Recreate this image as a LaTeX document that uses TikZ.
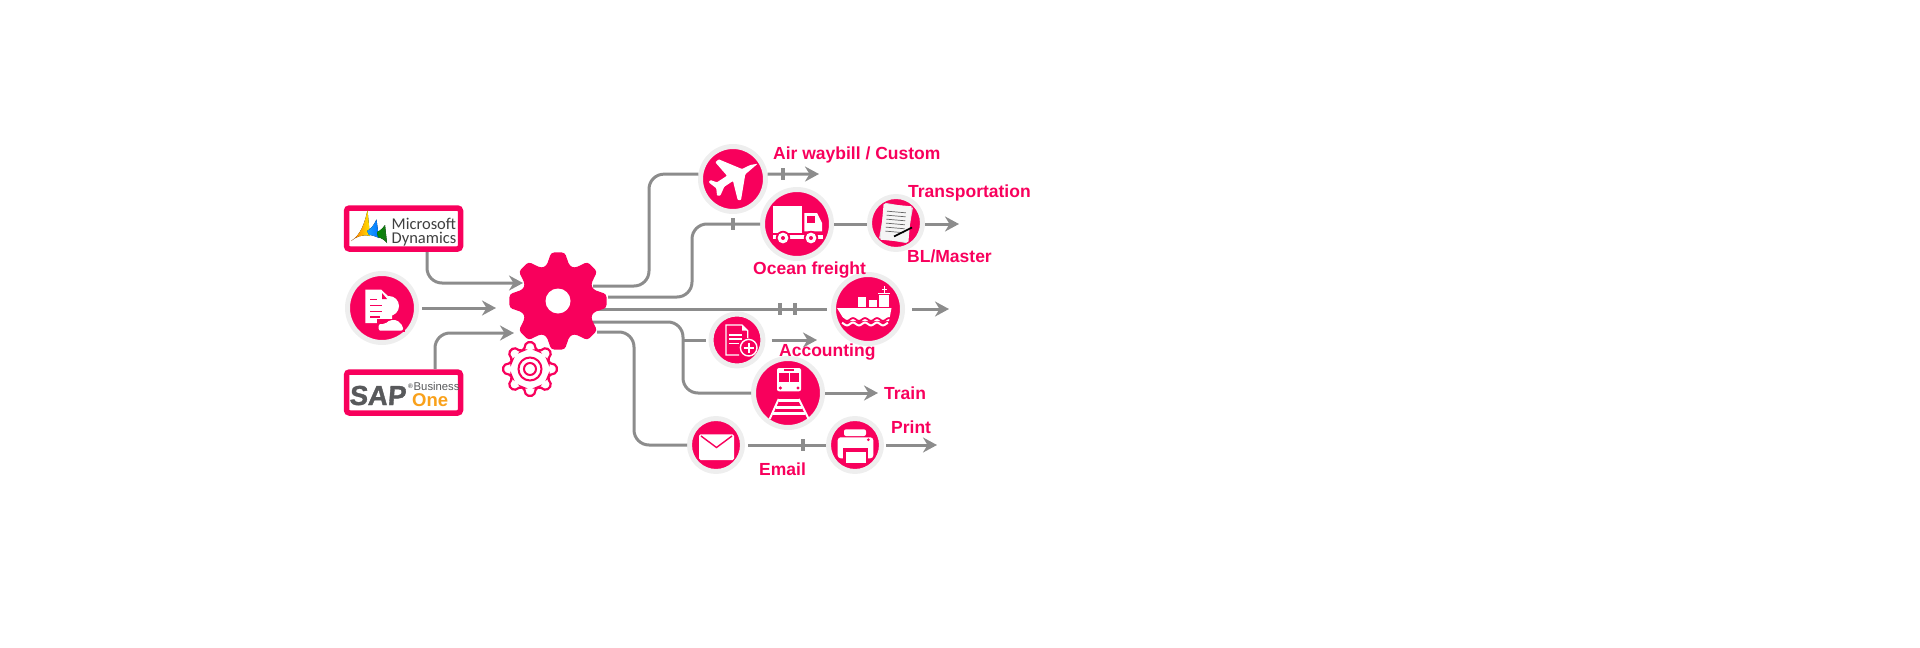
\documentclass[tikz,border=0pt]{standalone}
\usepackage{fontspec}
\setmainfont{Liberation Sans}
\newfontfamily\logofont{Carlito}
\newfontfamily\sapfont[FakeSlant=0.08,FakeBold=1.2]{Liberation Sans Bold}
\usetikzlibrary{arrows.meta}
\definecolor{brand}{HTML}{F8005C}
\definecolor{halo}{HTML}{EEEEEE}
\definecolor{pipe}{HTML}{8C8C8C}
\definecolor{sapgray}{HTML}{58595B}
\definecolor{saporange}{HTML}{F9A11B}
\newcommand{\cogpath}[2]{(-18:#2) \foreach \ang in {0,45,...,270}{ -- (\ang-8:#1) -- (\ang+8:#1) -- (\ang+18:#2) -- (\ang+27:#2)} -- (307:#1) -- (323:#1) -- (333:#2) -- cycle}
\tikzset{
	hub/.style={circle, fill=brand, draw=halo, line width=5pt, minimum size=#1, inner sep=0pt},
	logobox/.style={rectangle, fill=white, draw=brand, line width=5.5pt, rounded corners=3pt, minimum width=114pt, minimum height=41pt, inner sep=0pt},
	pipeline/.style={draw=pipe, line width=3pt, rounded corners=15pt},
	flow/.style={pipeline, -{Stealth[length=14pt,width=15pt,inset=4.5pt]}},
	tick/.style={rectangle, fill=pipe, minimum width=3.8pt, minimum height=12.5pt, inner sep=0pt},
	caption/.style={anchor=base west, inner sep=0pt, text=brand, font=\bfseries\fontsize{17.5}{20}\selectfont},
	icon/.style={fill=white, draw=none}
}
\begin{document}
\begin{tikzpicture}[x=1pt, y=-1pt]
	\useasboundingbox (0,0) rectangle (1920,648);

	\node[logobox] (dynamics) at (403.5,228.5) {};
	\node[logobox] (sapone) at (403.5,392.5) {};
	\node[hub=69pt] (person) at (382,308) {};
	\node[hub=65pt] (plane) at (733,179) {};
	\node[hub=69pt] (truck) at (797,224) {};
	\node[hub=53pt] (paper) at (896,223) {};
	\node[hub=69pt] (ship) at (868,309) {};
	\node[hub=52pt] (docplus) at (737,340) {};
	\node[hub=69pt] (train) at (788,393) {};
	\node[hub=53pt] (mail) at (716,445) {};
	\node[hub=53pt] (printer) at (855,445) {};
	\node[circle, minimum size=98pt, inner sep=0pt] (gear) at (558,301) {};
	\node[circle, minimum size=56pt, inner sep=0pt] (smallgear) at (530,369) {};

	\coordinate (dynamicsOut) at (427,252);
	\coordinate (saponeOut) at (435,369);
	\coordinate (gearInA) at (523,283);
	\coordinate (gearInB) at (496,308);
	\coordinate (gearInC) at (514,333);
	\coordinate (gearOutA) at (593,286);
	\coordinate (gearOutB) at (608,297);
	\coordinate (gearOutC) at (598,309);
	\coordinate (gearOutD) at (592,322);
	\coordinate (gearOutE) at (597,332);
	\coordinate (split) at (683,340);
	\coordinate (planeEnd) at (819,174);
	\coordinate (paperEnd) at (959,224);
	\coordinate (shipEnd) at (949,309);
	\coordinate (docplusEnd) at (817,340);
	\coordinate (trainEnd) at (878,393);
	\coordinate (printerEnd) at (937,445);

	\draw[flow] (dynamicsOut) |- (gearInA);
	\draw[flow, shorten <=3pt] (person.east) -- (gearInB);
	\draw[flow] (saponeOut) |- (gearInC);
	\draw[pipeline] (gearOutA) -- (649,286) |- (plane.172);
	\draw[flow] (plane.8) -- (planeEnd);
	\draw[pipeline] (gearOutB) -- (692,297) |- (truck.west);
	\draw[pipeline] (truck.east) -- (paper.west |- truck.east);
	\draw[flow] (paper.east |- paperEnd) -- (paperEnd);
	\draw[pipeline, shorten >=4pt] (gearOutC) -- (ship.west);
	\draw[flow, shorten <=7pt] (ship.east) -- (shipEnd);
	\draw[pipeline] (gearOutD) -- (683,322) |- (train.west);
	\draw[pipeline, rounded corners=0pt, shorten >=3pt] (split) -- (docplus.west);
	\draw[flow, shorten <=6pt] (docplus.east) -- (docplusEnd);
	\draw[flow] (train.east) -- (trainEnd);
	\draw[pipeline] (gearOutE) -- (634,332) |- (mail.west);
	\draw[pipeline, shorten <=3pt] (mail.east) -- (printer.west);
	\draw[flow, shorten <=2pt] (printer.east) -- (printerEnd);

	\node[tick] (planeTick) at (783,174) {};
	\node[tick] (truckTick) at (733,224) {};
	\node[tick] (shipTickA) at (780,309) {};
	\node[tick] (shipTickB) at (795,309) {};
	\node[tick] (mailTick) at (803,445) {};

	\filldraw[shift={(smallgear)}, fill=white, draw=brand, line width=2.2pt, rounded corners=2pt] \cogpath{27}{20};
	\draw[shift={(smallgear)}, brand, line width=2pt] (0,0) circle (11.5) (0,0) circle (6);
	\fill[shift={(gear)}, brand, rounded corners=3pt] \cogpath{49}{37};
	\fill[shift={(gear)}, white] (0,0) circle (12.5);

	\begin{scope}[shift={(plane)}]
		\fill[icon, rounded corners=0.8pt] (24.7,-15.3) -- (12.3,-4.7) -- (8,21) -- (4.7,21) -- (0,2) -- (-8.7,7.7) -- (-12.7,16.7) -- (-16,16.7) -- (-16.7,9.3) -- (-24.3,3.3) -- (-22.7,1) -- (-16,3.3) -- (-6,-3.3) -- (-17.7,-16.7) -- (-14.3,-19.7) -- (9,-10) -- (17.3,-14) -- cycle;
	\end{scope}
	\begin{scope}[shift={(truck)}]
		\fill[icon] (-24.3,-17.7) rectangle (5,9);
		\fill[icon] (7.3,-11) -- (20,-11) -- (25,-1) -- (25,7.3) -- (7.3,7.3) -- cycle;
		\fill[brand] (10,-7.7) rectangle (18.3,-1);
		\fill[icon] (-24,10.7) rectangle (26,15);
		\foreach \wheelx in {-14,14} {
			\fill[brand] (\wheelx,14) circle (7.2);
			\fill[icon] (\wheelx,14) circle (5.4);
			\fill[brand] (\wheelx,14) circle (2);
		}
	\end{scope}
	\begin{scope}[shift={(person)}]
		\fill[icon] (-16.7,-18.3) -- (-0.7,-18.3) -- (10,-8) -- (10,15) -- (-16.7,15) -- cycle;
		\fill[icon] (7,-2) circle (10);
		\fill[brand] (0,-15) -- (5,-9) -- (0,-9) -- cycle;
		\draw[brand, line width=1.3pt] (-11.7,-8.3) -- (-5,-8.3) (-11.7,-2.7) -- (0,-2.7) (-11.7,3.3) -- (0,3.3) (-11.7,9) -- (-2,9);
		\fill[brand] (-5,10.5) rectangle (23,24);
		\fill[icon, rounded corners=2pt] (-3.3,22.7) -- (-3.3,16) -- (3,16) -- (8,12) -- (15,12) -- (21,18) -- (21,22.7) -- cycle;
	\end{scope}
	\begin{scope}[shift={(docplus)}]
		\draw[white, line width=1.4pt] (10.7,-2) -- (10.7,-9.3) -- (5,-15) -- (-11,-15) -- (-11,15) -- (2,15);
		\fill[icon] (5,-15) -- (10.7,-9.3) -- (5,-9.3) -- cycle;
		\draw[white, line width=1.4pt] (-8.3,-5) -- (5,-5) (-8.3,-1) -- (5,-1) (-8.3,3.3) -- (2,3.3);
		\filldraw[fill=brand, draw=white, line width=1.4pt] (11.7,7.7) circle (8.3);
		\draw[white, line width=2pt] (6.7,7.7) -- (16.7,7.7) (11.7,2.7) -- (11.7,12.7);
	\end{scope}
	\begin{scope}[shift={(paper)}]
		\fill[white!88!black, rotate=-10] (-14,-18) rectangle (14,18);
		\fill[white!96!black, rotate=-5] (-14,-18) rectangle (14,18);
		\foreach \rowy in {-11,-7,-3,1,5,9} {
			\draw[black!60, line width=0.7pt, rotate=-5] (-10,\rowy) -- (9,\rowy);
		}
		\draw[black, line width=1.6pt] (-2,13.5) -- (16,4.5);
	\end{scope}
	\begin{scope}[shift={(ship)}]
		\fill[icon] (-31,-1) -- (23.5,-1) -- (21,12) -- (-23,12) -- cycle;
		\draw[brand, line width=1.8pt] plot[domain=-27:22, samples=50] (\x, {10.5+1.4*sin(\x*30)});
		\draw[white, line width=2pt] plot[domain=-26:20, samples=50] (\x, {15+1.4*sin(\x*30)});
		\fill[icon] (-10,-12) rectangle (-1.7,-2);
		\fill[icon] (0.7,-9.3) rectangle (9,-2);
		\fill[icon] (10.7,-14.3) rectangle (21,-2);
		\fill[icon] (10,-16.3) rectangle (21.7,-15);
		\draw[white, line width=1.5pt] (16.3,-23) -- (16.3,-16);
		\draw[white, line width=1pt] (13.5,-19.5) -- (19,-19.5);
	\end{scope}
	\begin{scope}[shift={(train)}]
		\fill[icon, rounded corners=2pt] (-11,-25) rectangle (13,-1.7);
		\fill[brand] (-3.7,-23.6) rectangle (6.3,-22.4);
		\fill[brand] (-8.7,-20) rectangle (0.7,-10.7);
		\fill[brand] (2.3,-20) rectangle (11.3,-10.7);
		\fill[brand] (-7.7,-5) circle (1.7) (10,-5) circle (1.7);
		\draw[white, line width=2pt] (-9.3,6) -- (-18.3,26) (10.7,6) -- (20.7,26);
		\draw[white, line width=3pt] (-9.5,7.5) -- (11,7.5) (-12.5,14) -- (14,14) (-15.5,20.7) -- (17,20.7);
	\end{scope}
	\begin{scope}[shift={(mail)}]
		\fill[icon, rounded corners=1.5pt] (-17,-10.7) rectangle (18,15);
		\draw[brand, line width=1.4pt] (-15,-9) -- (0.5,2.5) -- (16,-9);
	\end{scope}
	\begin{scope}[shift={(printer)}]
		\fill[icon, rounded corners=2pt] (-11,-15.7) rectangle (11,-9);
		\fill[icon, rounded corners=3pt] (-17.3,-7.7) rectangle (18.3,13.3);
		\fill[brand] (13.3,-5.3) circle (1.5);
		\fill[brand] (-12.3,3.3) rectangle (13.3,16);
		\fill[icon] (-9,6.7) rectangle (10.7,18.3);
	\end{scope}

	\fill[left color=orange!85!red, right color=yellow!80!orange] (351,241) .. controls (361,235) and (365,222) .. (367.5,210) -- (370,236) .. controls (362,234) and (356,237) .. (351,241) -- cycle;
	\fill[left color=cyan!60!blue!90!white, right color=blue!55!cyan] (367,231) .. controls (371,229) and (374,225) .. (376.5,219.5) -- (379,238) .. controls (375,236) and (371,235) .. (369,235) -- cycle;
	\fill[left color=green!55!black, right color=green!40!black!90!white] (377,232) .. controls (380,231) and (383,228) .. (385,225) -- (387,243) .. controls (385,240) and (381,238) .. (378,237) -- cycle;
	\node[anchor=base west, inner sep=0pt, text=black!75, font=\logofont\fontsize{16.5}{17}\selectfont] (dynamicsTop) at (391.5,229) {Microsoft};
	\node[anchor=base west, inner sep=0pt, text=black!75, font=\logofont\fontsize{16.5}{17}\selectfont] (dynamicsBottom) at (391.5,243) {Dynamics};
	\node[anchor=base west, inner sep=0pt, text=sapgray, font=\sapfont\fontsize{27.5}{28}\selectfont] (sapWord) at (349,405) {SAP};
	\node[anchor=base west, inner sep=0pt, text=sapgray, font=\bfseries\fontsize{6.5}{7}\selectfont] (sapMark) at (408,388) {®};
	\node[anchor=base west, inner sep=0pt, text=sapgray, font=\fontsize{11.3}{12}\selectfont] (sapBusiness) at (413.5,390) {Business};
	\node[anchor=base west, inner sep=0pt, text=saporange, font=\bfseries\fontsize{18.5}{19}\selectfont] (sapOne) at (412,406) {One};

	\node[caption] (airLabel) at (773,159) {Air waybill / Custom};
	\node[caption] (transportLabel) at (908,197) {Transportation};
	\node[caption] (masterLabel) at (907,262) {BL/Master};
	\node[caption] (oceanLabel) at (753,274) {Ocean freight};
	\node[caption] (accountLabel) at (779,356) {Accounting};
	\node[caption] (trainLabel) at (884,399) {Train};
	\node[caption] (printLabel) at (891,433) {Print};
	\node[caption] (emailLabel) at (759,475) {Email};
\end{tikzpicture}
\end{document}
